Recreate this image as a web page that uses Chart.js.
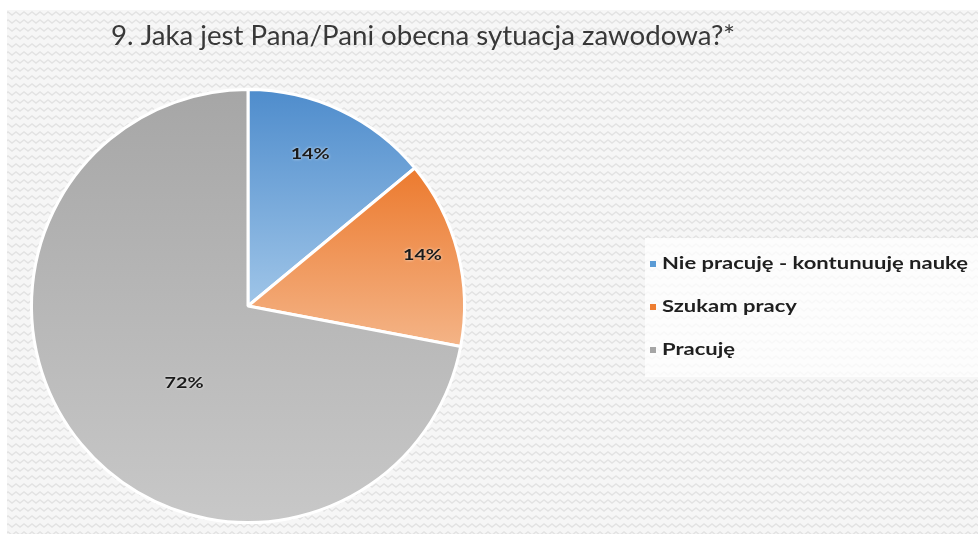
<!DOCTYPE html>
<html>
<head>
<meta charset="utf-8">
<script src="https://cdn.jsdelivr.net/npm/chart.js@4.4.1/dist/chart.umd.min.js"></script>
<style>
    html, body { margin: 0; padding: 0; background: #fff; }
    #wrap { width: 978px; height: 534px; position: relative; }
</style>
</head>
<body>
<div id="wrap"><canvas id="chartSituacao"></canvas></div>
<script>
// Dados do gráfico
const categorias = ['Nie pracuję - kontunuuję naukę', 'Szukam pracy', 'Pracuję'];
const valores = [14, 14, 72];
const rotulos = ['14%', '14%', '72%'];
const titulo = '9. Jaka jest Pana/Pani obecna sytuacja zawodowa?*';

// Cores (topo -> base do gradiente)
const coresTopo = ['#4e8ccc', '#ec7a2e', '#a6a6a6'];
const coresBase = ['#9fc5e8', '#f4b487', '#c8c8c8'];
const coresLegenda = ['#5b9bd5', '#ed7d31', '#a5a5a5'];
// posição do rótulo: fração do raio e ajuste de ângulo (graus)
const fatorRotulo = [0.76, 0.84, 0.46];
const ajusteAngulo = [-3, -2, -10.5];

const total = valores.reduce((a, b) => a + b, 0);

function gradienteFatia(ctx) {
    const chart = ctx.chart;
    const area = chart.chartArea;
    const i = ctx.dataIndex;
    if (!area) return coresTopo[i];
    const cx = (area.left + area.right) / 2;
    const cy = (area.top + area.bottom) / 2;
    const r = Math.min(area.right - area.left, area.bottom - area.top) / 2;
    let antes = 0;
    for (let k = 0; k < i; k++) antes += valores[k];
    const ini = -Math.PI / 2 + 2 * Math.PI * antes / total;
    const fim = ini + 2 * Math.PI * valores[i] / total;
    let ys = [cy, cy + r * Math.sin(ini), cy + r * Math.sin(fim)];
    // verifica se o arco passa pelo topo/base
    [-Math.PI / 2, Math.PI / 2, 3 * Math.PI / 2].forEach(a => {
        if (a >= ini && a <= fim) ys.push(cy + r * Math.sin(a));
    });
    const y0 = Math.min(...ys), y1 = Math.max(...ys);
    const g = chart.ctx.createLinearGradient(0, y0, 0, y1);
    g.addColorStop(0, coresTopo[i]);
    g.addColorStop(1, coresBase[i]);
    return g;
}

// Fundo com textura
function criarTextura() {
    const c = document.createElement('canvas');
    c.width = 8; c.height = 8;
    const t = c.getContext('2d');
    t.fillStyle = '#f6f6f6';
    t.fillRect(0, 0, 8, 8);
    t.strokeStyle = '#e2e2e2';
    t.lineWidth = 1.4;
    t.beginPath();
    t.moveTo(-1, 3); t.lineTo(4, 7); t.lineTo(9, 3);
    t.stroke();
    return c;
}

// escreve texto esticado na horizontal até a largura desejada
function textoLargura(ctx, txt, x, y, largura) {
    const w = ctx.measureText(txt).width;
    ctx.save();
    ctx.translate(x, y);
    ctx.scale(largura / w, 1);
    ctx.fillText(txt, 0, 0);
    ctx.restore();
}

const pluginFundo = {
    id: 'fundo',
    beforeDraw(chart) {
        const ctx = chart.ctx;
        ctx.save();
        ctx.fillStyle = '#ffffff';
        ctx.fillRect(0, 0, chart.width, chart.height);
        ctx.fillStyle = ctx.createPattern(criarTextura(), 'repeat');
        ctx.fillRect(7, 10, chart.width - 7, chart.height - 10);
        // título
        ctx.fillStyle = '#383838';
        ctx.font = '26px Lato';
        ctx.textBaseline = 'alphabetic';
        textoLargura(ctx, titulo, 111, 45, 624);
        ctx.restore();
    }
};

const pluginRotulos = {
    id: 'rotulos',
    afterDatasetsDraw(chart) {
        const ctx = chart.ctx;
        const meta = chart.getDatasetMeta(0);
        ctx.save();
        ctx.font = 'bold 16px Lato';
        ctx.textBaseline = 'middle';
        ctx.fillStyle = '#1a1a1a';
        ctx.shadowColor = 'rgba(255,255,255,0.8)';
        ctx.shadowBlur = 3;
        meta.data.forEach((arc, i) => {
            const p = arc.getProps(['x', 'y', 'startAngle', 'endAngle', 'outerRadius'], true);
            const meio = (p.startAngle + p.endAngle) / 2 + ajusteAngulo[i] * Math.PI / 180;
            const r = p.outerRadius * fatorRotulo[i];
            const lx = p.x + Math.cos(meio) * r;
            const ly = p.y + Math.sin(meio) * r;
            textoLargura(ctx, rotulos[i], lx - 19.5, ly, 39);
        });
        ctx.shadowBlur = 0;

        // Legenda à direita
        ctx.fillStyle = 'rgba(255,255,255,0.75)';
        ctx.fillRect(645, 238, chart.width - 645, 139);
        ctx.font = 'bold 17px Lato';
        const escala = 306 / ctx.measureText(categorias[0]).width;
        categorias.forEach((cat, i) => {
            const y = 264 + i * 43;
            ctx.fillStyle = coresLegenda[i];
            ctx.fillRect(650, y - 3, 6, 6);
            ctx.fillStyle = '#1f1f1f';
            textoLargura(ctx, cat, 662, y, ctx.measureText(cat).width * escala);
        });
        ctx.restore();
    }
};

new Chart(document.getElementById('chartSituacao').getContext('2d'), {
    type: 'pie',
    data: {
        labels: categorias,
        datasets: [{
            data: valores,
            backgroundColor: gradienteFatia,
            borderColor: '#ffffff',
            borderWidth: 3
        }]
    },
    options: {
        responsive: true,
        maintainAspectRatio: false,
        animation: false,
        events: [],
        layout: { padding: { left: 30, top: 88, right: 512, bottom: 10 } },
        plugins: {
            legend: { display: false },
            tooltip: { enabled: false }
        }
    },
    plugins: [pluginFundo, pluginRotulos]
});
</script>
</body>
</html>
